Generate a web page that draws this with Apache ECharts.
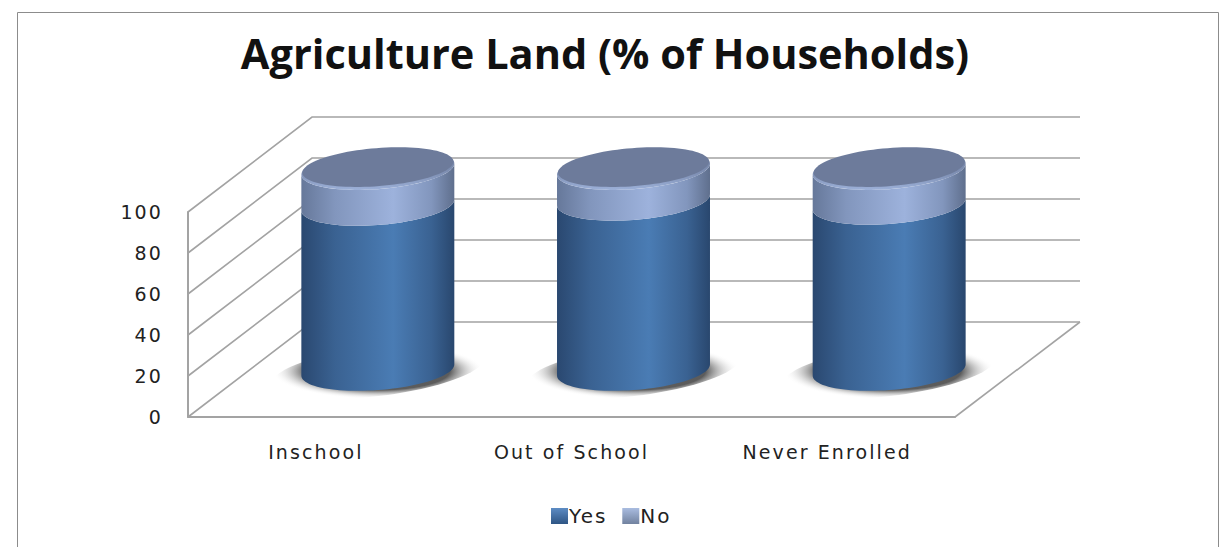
<!DOCTYPE html>
<html><head><meta charset="utf-8">
<style>
html,body{margin:0;padding:0;background:#fff;overflow:hidden}
#c{width:1231px;height:547px}
#c text{letter-spacing:2.1px}
#c text[style*="41.5px"]{letter-spacing:0}
</style>
<script src="https://cdn.jsdelivr.net/npm/echarts@6/dist/echarts.min.js"></script>
</head><body><div id="c"></div>
<script>
const titleText = 'Agriculture Land (% of Households)';
const categories = ['Inschool', 'Out of School', 'Never Enrolled'];
const yesValues = [80.5, 83, 81];
const noValues = [17.5, 15, 17];
const yTicks = [0, 20, 40, 60, 80, 100];

const chart = echarts.init(document.getElementById('c'), null, {renderer: 'svg', width: 1231, height: 547});
const G = echarts.graphic;
const DEPTH_X = 124, DEPTH_Y = 95;
const TILT = -4.5 * Math.PI / 180;
const sideGrad = (edgeL, mid, edgeR) => new G.LinearGradient(0, 0, 1, 0, [
  {offset: 0, color: edgeL}, {offset: 0.22, color: mid[0]}, {offset: 0.6, color: mid[1]},
  {offset: 0.85, color: mid[0]}, {offset: 1, color: edgeR}]);

function ellipsePt(cx, cy, a, b, t, tilt) {
  const th = tilt === undefined ? TILT : tilt;
  const x = a * Math.cos(t), y = b * Math.sin(t);
  return [cx + x * Math.cos(th) - y * Math.sin(th), cy + x * Math.sin(th) + y * Math.cos(th)];
}
function ellipse(cx, cy, a, b, tilt) {
  const pts = [];
  for (let i = 0; i < 96; i++) pts.push(ellipsePt(cx, cy, a, b, i / 96 * Math.PI * 2, tilt));
  return pts;
}
function sideBand(cx, y0, y1, a, b) {
  const t0 = Math.atan(-(b / a) * Math.tan(TILT));
  const pts = [];
  for (let i = 0; i <= 48; i++) pts.push(ellipsePt(cx, y0, a, b, t0 + i / 48 * Math.PI));
  for (let i = 48; i >= 0; i--) pts.push(ellipsePt(cx, y1, a, b, t0 + i / 48 * Math.PI));
  return pts;
}
function barGeom(api, idx, from, to) {
  const p0 = api.coord([idx, from]), p1 = api.coord([idx, to]);
  const w = api.size([1, 0])[0] * 0.6;
  return {cx: p0[0] + DEPTH_X / 2, y0: p0[1] - DEPTH_Y / 2 + 0.5, y1: p1[1] - DEPTH_Y / 2 + 0.5, a: w / 2, b: 20};
}

function renderWalls(params, api) {
  const v = api.value(0), p = api.coord([0, v]);
  const sys = params.coordSys, fx = sys.x, rx = sys.x + sys.width;
  const y = p[1];
  const style = {stroke: '#a3a3a3', lineWidth: 1.6, fill: 'none'};
  const children = [
    {type: 'polyline', shape: {points: [[fx, y], [fx + DEPTH_X, y - DEPTH_Y], [rx + DEPTH_X + 1, y - DEPTH_Y]]}, style}
  ];
  if (v === 0) children.push({type: 'polyline', shape: {points: [[rx, y], [rx + DEPTH_X + 1, y - DEPTH_Y]]}, style});
  return {type: 'group', children};
}
function renderYes(params, api) {
  const i = api.value(0), g = barGeom(api, i, 0, api.value(1));
  return {type: 'group', children: [
    {type: 'polygon', shape: {points: ellipse(g.cx, g.y0 + 1, g.a + 30, 25, -7 * Math.PI / 180)},
      style: {fill: new G.RadialGradient(0.5, 0.5, 0.5, [
        {offset: 0, color: '#555'}, {offset: 0.68, color: '#5c5c5c'}, {offset: 1, color: 'rgba(255,255,255,0)'}])}},
    {type: 'polygon', shape: {points: sideBand(g.cx, g.y0, g.y1, g.a, g.b)},
      style: {fill: sideGrad('#2a4870', ['#3a6292', '#4a7cb4'], '#29476e')}}
  ]};
}
function renderNo(params, api) {
  const i = api.value(0), from = api.value(1), to = from + api.value(2);
  const g = barGeom(api, i, from, to);
  return {type: 'group', children: [
    {type: 'polygon', shape: {points: sideBand(g.cx, g.y0, g.y1, g.a, g.b)},
      style: {fill: sideGrad('#66789a', ['#8296bd', '#9db2dc'], '#5f6f8d')}},
    {type: 'polygon', shape: {points: ellipse(g.cx, g.y1, g.a, g.b)},
      style: {fill: new G.LinearGradient(0, 0, 0, 1, [
        {offset: 0, color: '#6d7b9b'}, {offset: 0.6, color: '#7f90b4'}, {offset: 1, color: '#9cb0d8'}])}},
    {type: 'polygon', shape: {points: ellipse(g.cx, g.y1 - 2, g.a - 1, g.b - 1)},
      style: {fill: '#6d7b9b'}}
  ]};
}

const textBase = {fontFamily: 'DejaVu Sans', color: '#222'};
chart.setOption({
  animation: false,
  backgroundColor: '#fff',
  title: {text: titleText, left: 600, top: 27, textAlign: 'center',
    textStyle: {fontFamily: 'Open Sans', fontWeight: 700, fontSize: 41.5, color: '#111'}},
  legend: {left: 546, top: 501, itemWidth: 17, itemHeight: 16, itemGap: 21, icon: 'rect',
    data: ['Yes', 'No'],
    textStyle: {...textBase, fontSize: 20, padding: [0, 0, 0, -4]}},
  grid: {left: 188, top: 212, width: 767, height: 205},
  xAxis: {type: 'category', data: categories,
    axisTick: {show: false},
    axisLine: {lineStyle: {color: '#a3a3a3', width: 2}},
    axisLabel: {...textBase, fontSize: 19, margin: 25}},
  yAxis: {type: 'value', min: 0, max: 100, interval: 20,
    axisTick: {show: false},
    axisLine: {show: true, lineStyle: {color: '#a3a3a3', width: 2}},
    splitLine: {show: false},
    axisLabel: {...textBase, fontSize: 19, margin: 25}},
  graphic: [{type: 'rect', silent: true, z: -1,
    shape: {x: 17.5, y: 12.5, width: 1201, height: 560},
    style: {fill: 'none', stroke: '#8c8c8c', lineWidth: 1}}],
  series: [
    {type: 'custom', name: 'walls', renderItem: renderWalls, z: 1, silent: true,
      data: yTicks.map(v => [v]), encode: {y: 0}},
    {type: 'custom', name: 'Yes', renderItem: renderYes, z: 2,
      itemStyle: {color: new G.LinearGradient(0, 0, 0, 1, [{offset: 0, color: '#5d8cc4'}, {offset: 1, color: '#2e5584'}])},
      data: categories.map((c, i) => [i, yesValues[i]]), encode: {x: 0, y: 1}},
    {type: 'custom', name: 'No', renderItem: renderNo, z: 3,
      itemStyle: {color: new G.LinearGradient(0, 0, 0, 1, [{offset: 0, color: '#a9bce0'}, {offset: 1, color: '#71829f'}])},
      data: categories.map((c, i) => [i, yesValues[i], noValues[i]]), encode: {x: 0, y: 1}}
  ]
});
</script></body></html>
